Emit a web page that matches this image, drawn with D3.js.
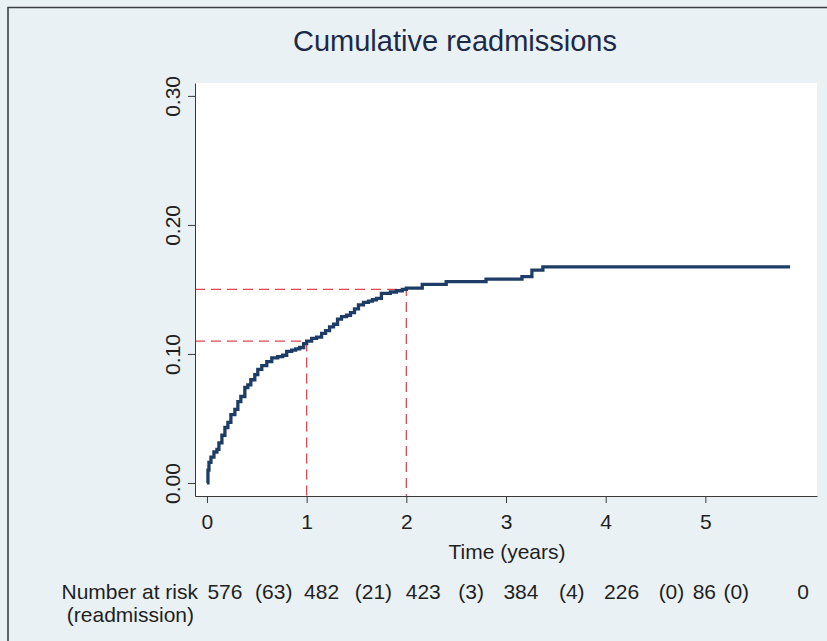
<!DOCTYPE html>
<html>
<head>
<meta charset="utf-8">
<script src="https://cdn.jsdelivr.net/npm/d3@7.9.0/dist/d3.min.js"></script>
<style>
  html, body { margin: 0; padding: 0; background: #e9f1f4; }
  svg { display: block; font-family: "Liberation Sans", Arial, sans-serif; }
</style>
</head>
<body>
<svg id="chart" width="827" height="641"></svg>
<script>
// step points of the cumulative incidence curve (time in years, cumulative proportion)
const times = [0, 0.01, 0.02, 0.04, 0.07, 0.10, 0.12, 0.15, 0.18, 0.21, 0.24, 0.28, 0.31, 0.34,
  0.38, 0.41, 0.44, 0.48, 0.51, 0.55, 0.60, 0.65, 0.71, 0.76, 0.80, 0.85, 0.89, 0.93, 0.97,
  1.00, 1.05, 1.10, 1.15, 1.19, 1.23, 1.27, 1.31, 1.35, 1.40, 1.44, 1.48, 1.52, 1.57, 1.62,
  1.66, 1.70, 1.75, 1.80, 1.84, 1.90, 1.96, 2.00, 2.16, 2.40, 2.80, 3.16, 3.26, 3.37, 5.85];
const cumInc = [0, 0.010, 0.016, 0.020, 0.024, 0.026, 0.031, 0.037, 0.043, 0.047, 0.053, 0.057, 0.063, 0.067,
  0.074, 0.076, 0.080, 0.084, 0.088, 0.091, 0.094, 0.097, 0.098, 0.099, 0.102, 0.103, 0.104, 0.105, 0.108,
  0.110, 0.112, 0.113, 0.116, 0.118, 0.121, 0.123, 0.127, 0.129, 0.130, 0.132, 0.135, 0.138, 0.140, 0.141,
  0.142, 0.143, 0.147, 0.147, 0.148, 0.149, 0.150, 0.151, 0.154, 0.156, 0.158, 0.160, 0.165, 0.1675, 0.1675];

// reference lines: [time, cumulative]
const refLines = [[1, 0.11], [2, 0.15]];

const xTicks = [0, 1, 2, 3, 4, 5];
const yTicks = [0, 0.1, 0.2, 0.3];

// number at risk table
const atRisk = ['576', '482', '423', '384', '226', '86', '0'];
const readmitted = ['(63)', '(21)', '(3)', '(4)', '(0)', '(0)'];
// label anchor times for the table text
const atRiskPos = [0.18, 1.15, 2.17, 3.15, 4.16, 4.99, 5.98];
const readmittedPos = [0.67, 1.67, 2.65, 3.66, 4.66, 5.31];

const svg = d3.select('#chart');

const x = d3.scaleLinear().domain([-0.12, 6.12]).range([195, 817]);
const y = d3.scaleLinear().domain([-0.0101, 0.310]).range([496, 83]);

// outer frame
svg.append('path')
  .attr('d', 'M8,641 L8,7.5 L827,7.5')
  .attr('fill', 'none')
  .attr('stroke', '#3d4146')
  .attr('stroke-width', 1.6);

// plot region
svg.append('rect')
  .attr('x', x.range()[0]).attr('y', y.range()[1])
  .attr('width', x.range()[1] - x.range()[0])
  .attr('height', y.range()[0] - y.range()[1])
  .attr('fill', '#ffffff');

svg.append('text')
  .attr('x', 455).attr('y', 51)
  .attr('text-anchor', 'middle')
  .attr('font-size', 29)
  .attr('fill', '#1c2a48')
  .text('Cumulative readmissions');

// red dashed guides
refLines.forEach(([t, v]) => {
  svg.append('path')
    .attr('d', `M${x.range()[0]},${y(v)} H${x(t)} V${y.range()[0]}`)
    .attr('fill', 'none')
    .attr('stroke', '#e2474f')
    .attr('stroke-width', 1.3)
    .attr('stroke-dasharray', '10,6');
});

// curve
const line = d3.line()
  .x((d, i) => x(times[i]))
  .y(d => y(d))
  .curve(d3.curveStepAfter);

svg.append('path')
  .datum(cumInc)
  .attr('d', line)
  .attr('fill', 'none')
  .attr('stroke', '#1e3d66')
  .attr('stroke-width', 3.3);

// axes
const xAxis = svg.append('g')
  .attr('transform', `translate(0,${y.range()[0]})`)
  .call(d3.axisBottom(x).tickValues(xTicks).tickFormat(d3.format('d'))
    .tickSize(7).tickSizeOuter(0).tickPadding(11));

const yAxis = svg.append('g')
  .attr('transform', `translate(${x.range()[0]},0)`)
  .call(d3.axisLeft(y).tickValues(yTicks).tickFormat(d3.format('.2f'))
    .tickSize(7).tickSizeOuter(0));

yAxis.selectAll('.tick text')
  .attr('transform', 'rotate(-90)')
  .attr('x', 0).attr('y', -15).attr('dy', 0)
  .attr('text-anchor', 'middle');

[xAxis, yAxis].forEach(g => {
  g.select('.domain').attr('stroke', '#3a3a3a');
  g.selectAll('.tick line').attr('stroke', '#3a3a3a');
  g.selectAll('.tick text')
    .attr('font-size', 21)
    .attr('font-family', '"Liberation Sans", Arial, sans-serif')
    .attr('fill', '#1f1f1f');
});

svg.append('text')
  .attr('x', 507).attr('y', 559)
  .attr('text-anchor', 'middle')
  .attr('font-size', 21)
  .attr('fill', '#1f1f1f')
  .text('Time (years)');

// number at risk
const table = svg.append('g')
  .attr('font-size', 21)
  .attr('fill', '#1f1f1f');

table.append('text')
  .attr('x', 198).attr('y', 599)
  .attr('text-anchor', 'end')
  .text('Number at risk');
table.append('text')
  .attr('x', 194).attr('y', 622)
  .attr('text-anchor', 'end')
  .text('(readmission)');

table.selectAll('.risk')
  .data(atRisk)
  .join('text')
  .attr('class', 'risk')
  .attr('x', (d, i) => x(atRiskPos[i]))
  .attr('y', 599)
  .attr('text-anchor', 'middle')
  .text(d => d);

table.selectAll('.readm')
  .data(readmitted)
  .join('text')
  .attr('class', 'readm')
  .attr('x', (d, i) => x(readmittedPos[i]))
  .attr('y', 599)
  .attr('text-anchor', 'middle')
  .text(d => d);
</script>
</body>
</html>
